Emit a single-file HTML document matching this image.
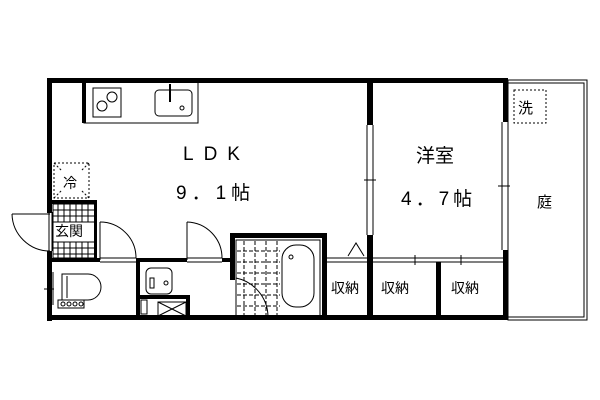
<!DOCTYPE html>
<html><head><meta charset="utf-8"><style>
body{margin:0;background:#fff}
svg{display:block}
text{font-family:"Liberation Sans","Noto Sans CJK JP",sans-serif;fill:#000}
</style></head><body>
<svg width="600" height="400" viewBox="0 0 600 400" xmlns="http://www.w3.org/2000/svg">
<g fill="none" stroke="#000">
<rect x="508" y="80" width="79" height="240" stroke-width="1"/>
<rect x="508" y="83" width="76" height="234" stroke-width="1"/>
<rect x="514" y="90" width="32" height="33" stroke-dasharray="2,2"/>
<rect x="54" y="163" width="35" height="35" stroke-dasharray="2,2"/>
<line x1="54" y1="163" x2="62" y2="171" stroke-dasharray="2,2"/>
<line x1="89" y1="163" x2="81" y2="171" stroke-dasharray="2,2"/>
<line x1="54" y1="198" x2="62" y2="190" stroke-dasharray="2,2"/>
<line x1="89" y1="198" x2="81" y2="190" stroke-dasharray="2,2"/>
<rect x="84" y="82" width="114" height="41"/>
<rect x="93" y="88" width="28" height="29"/>
<circle cx="112" cy="97" r="5"/><circle cx="102" cy="106" r="5"/>
<rect x="155" y="90" width="37" height="26" rx="4"/>
<line x1="170" y1="84" x2="170" y2="102" stroke-width="2"/>
<circle cx="182" cy="108" r="2"/>
<rect x="53" y="204" width="43" height="54"/>
<g stroke-width="1">
<line x1="53" y1="210" x2="96" y2="210"/><line x1="53" y1="216" x2="96" y2="216"/><line x1="53" y1="222" x2="96" y2="222"/>
<line x1="53" y1="242" x2="96" y2="242"/><line x1="53" y1="248" x2="96" y2="248"/><line x1="53" y1="254" x2="96" y2="254"/>
<line x1="58" y1="204" x2="58" y2="222"/><line x1="64" y1="204" x2="64" y2="222"/><line x1="70" y1="204" x2="70" y2="222"/><line x1="76" y1="204" x2="76" y2="222"/><line x1="82" y1="204" x2="82" y2="222"/><line x1="88" y1="204" x2="88" y2="222"/>
<line x1="58" y1="242" x2="58" y2="258"/><line x1="64" y1="242" x2="64" y2="258"/><line x1="70" y1="242" x2="70" y2="258"/><line x1="76" y1="242" x2="76" y2="258"/><line x1="82" y1="242" x2="82" y2="258"/><line x1="88" y1="242" x2="88" y2="258"/>
</g>
<line x1="12" y1="214" x2="50" y2="214"/>
<path d="M12 214 A38 38 0 0 0 50 251"/>
<line x1="49" y1="212" x2="49" y2="251"/><line x1="52" y1="212" x2="52" y2="251"/>
<line x1="100" y1="222" x2="100" y2="260"/><path d="M100 222 A36 36 0 0 1 136 258"/>
<line x1="187" y1="222" x2="187" y2="260"/><path d="M187 222 A36 36 0 0 1 222 258"/>
<line x1="100" y1="258" x2="136" y2="258"/><line x1="100" y1="262" x2="136" y2="262"/>
<line x1="187" y1="258" x2="222" y2="258"/><line x1="187" y1="262" x2="222" y2="262"/>
<!-- toilet -->
<path d="M62 274 H88 A13 13 0 0 1 88 300 H62 Z"/>
<line x1="67" y1="276" x2="67" y2="298"/>
<rect x="58" y="300" width="26" height="8"/>
<circle cx="63" cy="304" r="2"/><circle cx="69" cy="304" r="2"/><circle cx="75" cy="304" r="2"/><circle cx="81" cy="304" r="2"/>
<line x1="44" y1="289" x2="54" y2="289"/>
<line x1="50" y1="272" x2="50" y2="305"/><line x1="53" y1="272" x2="53" y2="305"/>
<rect x="146" y="268" width="26" height="26" rx="5"/>
<rect x="150" y="278" width="4" height="10"/>
<circle cx="166" cy="283" r="2"/>
<rect x="158" y="302" width="28" height="14"/>
<line x1="158" y1="302" x2="186" y2="316"/><line x1="186" y1="302" x2="158" y2="316"/>
<rect x="236" y="240" width="84" height="76"/>
<g stroke-dasharray="4,2">
<line x1="237" y1="251" x2="280" y2="251"/><line x1="237" y1="262" x2="280" y2="262"/><line x1="237" y1="273" x2="280" y2="273"/><line x1="237" y1="284" x2="280" y2="284"/><line x1="237" y1="295" x2="280" y2="295"/><line x1="237" y1="306" x2="280" y2="306"/>
<line x1="244" y1="241" x2="244" y2="316"/><line x1="255" y1="241" x2="255" y2="316"/><line x1="266" y1="241" x2="266" y2="316"/><line x1="277" y1="241" x2="277" y2="316"/>
</g>
<rect x="282" y="245" width="32" height="62" rx="14"/>
<circle cx="291" cy="257" r="2"/>
<path d="M236 278 A40 40 0 0 1 268 316"/>
<path d="M348 256 L356 243 L364 256"/>
<line x1="367" y1="125" x2="367" y2="235"/><line x1="373" y1="125" x2="373" y2="235"/>
<line x1="364" y1="180" x2="376" y2="180"/>
<line x1="502" y1="122" x2="502" y2="250"/><line x1="508" y1="122" x2="508" y2="250"/>
<line x1="498" y1="186" x2="510" y2="186"/>
<line x1="325" y1="258" x2="505" y2="258"/><line x1="325" y1="262" x2="505" y2="262"/>
<line x1="415" y1="255" x2="415" y2="265"/><line x1="461" y1="255" x2="461" y2="265"/>
</g>
<g fill="#000">
<rect x="47" y="78" width="461" height="5"/>
<rect x="47" y="78" width="5" height="135"/>
<rect x="47" y="251" width="5" height="70"/>
<rect x="47" y="315" width="461" height="5"/>
<rect x="503" y="78" width="5" height="44"/>
<rect x="503" y="250" width="5" height="70"/>
<rect x="82" y="82" width="4" height="41"/>
<rect x="367" y="78" width="6" height="47"/>
<rect x="367" y="235" width="6" height="85"/>
<rect x="52" y="200" width="44" height="4"/>
<rect x="94" y="200" width="3" height="62"/>
<rect x="52" y="258" width="48" height="4"/>
<rect x="136" y="258" width="51" height="4"/>
<rect x="222" y="258" width="10" height="4"/>
<rect x="136" y="258" width="4" height="62"/>
<rect x="140" y="295" width="50" height="4"/>
<rect x="186" y="295" width="4" height="25"/>
<rect x="230" y="233" width="97" height="5"/>
<rect x="230" y="233" width="5" height="47"/>
<rect x="322" y="233" width="5" height="87"/>
<rect x="436" y="262" width="5" height="58"/>
<rect x="141" y="300" width="6" height="14" fill="none" stroke="#000"/>
</g>
<text x="183" y="160" font-size="19" letter-spacing="10">LDK</text>
<text x="176" y="199" font-size="19" letter-spacing="5">9．1帖</text>
<text x="416" y="162" font-size="19">洋室</text>
<text x="401" y="205" font-size="19" letter-spacing="4">4．7帖</text>
<text x="537" y="207" font-size="15">庭</text>
<text x="518" y="113" font-size="15">洗</text>
<text x="63" y="188" font-size="14">冷</text>
<text x="55" y="236" font-size="14">玄関</text>
<text x="331" y="293" font-size="14">収納</text>
<text x="381" y="293" font-size="14">収納</text>
<text x="451" y="293" font-size="14">収納</text>
</svg>
</body></html>
